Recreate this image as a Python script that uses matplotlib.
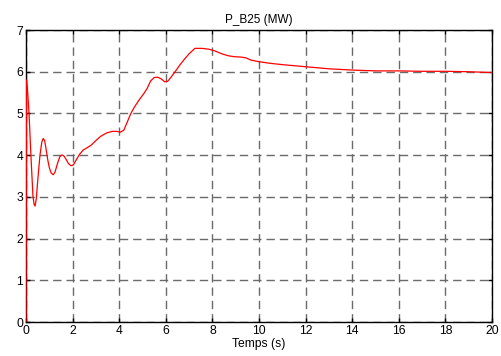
import numpy as np
import matplotlib
matplotlib.use("Agg")
import matplotlib.pyplot as plt

plt.rc('font', family=['Liberation Sans', 'DejaVu Sans'], size=8.7)

# values
temps = [0.0, 0.02, 0.06, 0.13, 0.21, 0.3, 0.35, 0.39, 0.44, 0.52, 0.6, 0.68,
         0.74, 0.8, 0.86, 0.93, 1.0, 1.08, 1.17, 1.25, 1.35, 1.45, 1.52, 1.57,
         1.63, 1.72, 1.82, 1.92, 1.98, 2.05, 2.15, 2.3, 2.45, 2.6, 2.8, 3.0,
         3.2, 3.45, 3.7, 3.9, 4.05, 4.2, 4.35, 4.5, 4.65, 4.85, 5.05, 5.2,
         5.35, 5.5, 5.65, 5.8, 5.95, 6.08, 6.2, 6.4, 6.6, 6.8, 7.0, 7.25,
         7.55, 7.85, 8.1, 8.4, 8.7, 8.95, 9.25, 9.45, 9.65, 10.0, 10.5, 11.0,
         12.0, 13.0, 14.0, 15.0, 16.0, 17.0, 18.0, 19.0, 20.0]
p_b25 = [0.0, 5.8, 5.6, 5.0, 4.0, 3.0, 2.82, 2.78, 2.95, 3.5, 4.0, 4.32,
         4.4, 4.35, 4.15, 3.9, 3.7, 3.57, 3.53, 3.6, 3.8, 3.96, 4.0, 4.0,
         3.98, 3.9, 3.8, 3.75, 3.75, 3.78, 3.88, 4.02, 4.12, 4.17, 4.24, 4.35,
         4.45, 4.53, 4.57, 4.57, 4.55, 4.6, 4.8, 5.0, 5.15, 5.32, 5.47, 5.6,
         5.78, 5.86, 5.87, 5.83, 5.76, 5.77, 5.85, 6.0, 6.16, 6.3, 6.43, 6.56,
         6.56, 6.54, 6.5, 6.43, 6.38, 6.36, 6.35, 6.33, 6.28, 6.24, 6.2, 6.17,
         6.12, 6.07, 6.04, 6.02, 6.02, 6.01, 6.01, 6.0, 5.98]

xticks = np.arange(0, 21, 2)
yticks = np.arange(0, 8, 1)

fig = plt.figure(figsize=(5.02, 3.56), dpi=100)
ax = fig.add_axes([0.0518, 0.0955, 0.9282, 0.8202])

ax.plot(temps, p_b25, color='red', linewidth=0.9, zorder=3)

ax.set_xlim(0, 20)
ax.set_ylim(0, 7)
ax.set_xticks(xticks)
ax.set_yticks(yticks)
ax.tick_params(direction='in', length=3, width=1, top=True, right=True, pad=2)
ax.grid(True, color='#6a6a6a', linestyle=(0, (6, 3.6)), linewidth=1)
for s in ax.spines.values():
    s.set_linewidth(1)
    s.set_color('black')

ax.set_title('P_B25 (MW)', fontsize=8.5, pad=5)
ax.set_xlabel('Temps (s)', labelpad=1)

fig.savefig('out.png', dpi=100)
